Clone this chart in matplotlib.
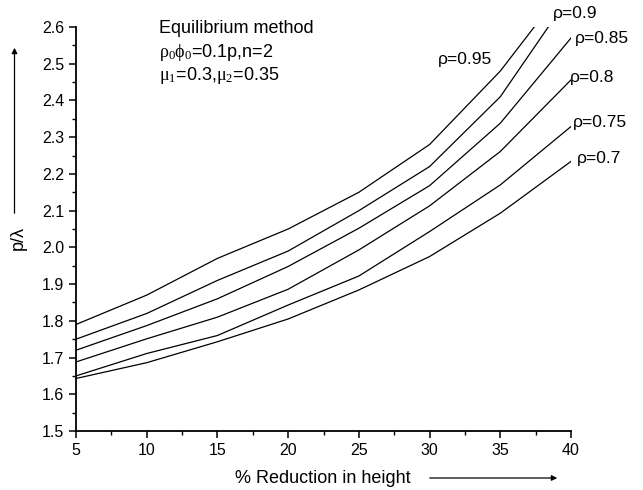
import matplotlib
matplotlib.use('Agg')
from matplotlib import pyplot as plt
from matplotlib.ticker import MultipleLocator, FormatStrFormatter

plt.rcParams['font.family'] = ['Liberation Sans', 'DejaVu Sans']
plt.rcParams['mathtext.fontset'] = 'custom'
plt.rcParams['mathtext.rm'] = 'Liberation Serif'
plt.rcParams['mathtext.it'] = 'Liberation Serif:italic'

reduction = [5, 10, 15, 20, 25, 30, 35, 40]
rho_labels = ['ρ=0.95', 'ρ=0.9', 'ρ=0.85', 'ρ=0.8', 'ρ=0.75', 'ρ=0.7']
p_095 = [1.79, 1.87, 1.97, 2.05, 2.15, 2.28, 2.48, 2.73]
p_090 = [1.75, 1.82, 1.91, 1.99, 2.10, 2.22, 2.41, 2.69]
p_085 = [1.72, 1.787, 1.86, 1.948, 2.052, 2.168, 2.338, 2.57]
p_080 = [1.688, 1.751, 1.81, 1.886, 1.993, 2.113, 2.261, 2.456]
p_075 = [1.65, 1.711, 1.76, 1.843, 1.922, 2.043, 2.17, 2.329]
p_070 = [1.643, 1.686, 1.743, 1.805, 1.884, 1.975, 2.093, 2.234]
series = [p_095, p_090, p_085, p_080, p_075, p_070]

# label anchor points (left edge, vertical centre) in data units
label_x = [30.6, 38.7, 40.3, 39.9, 40.1, 40.45]
label_y = [2.511, 2.636, 2.568, 2.462, 2.339, 2.241]

fig = plt.figure(figsize=(6.43, 4.90), dpi=100)
ax = fig.add_axes([76/643, 1-431/490, (571-76)/643, (431-27)/490])

for vals in series:
    ax.plot(reduction, vals, color='black', lw=0.9)

for lab, lx, ly in zip(rho_labels, label_x, label_y):
    ax.text(lx, ly, lab, fontsize=12.5, ha='left', va='center', clip_on=False)

ax.set_xlim(5, 40)
ax.set_ylim(1.5, 2.6)
ax.xaxis.set_major_locator(MultipleLocator(5))
ax.xaxis.set_minor_locator(MultipleLocator(2.5))
ax.yaxis.set_major_locator(MultipleLocator(0.1))
ax.yaxis.set_minor_locator(MultipleLocator(0.05))
ax.yaxis.set_major_formatter(FormatStrFormatter('%.1f'))
for s in ['top', 'right']:
    ax.spines[s].set_visible(False)
for s in ['left', 'bottom']:
    ax.spines[s].set_linewidth(1.3)
ax.tick_params(which='major', direction='out', length=5, width=1.1, labelsize=11.5)
ax.tick_params(which='minor', direction='out', length=3, width=1.0)

ax.text(0.168, 0.985, 'Equilibrium method', transform=ax.transAxes, fontsize=13, va='baseline')
ax.text(0.168, 0.925, r'$\mathrm{\rho_0\phi_0}$' + '=0.1p,n=2', transform=ax.transAxes, fontsize=13, va='baseline')
ax.text(0.168, 0.868, r'$\mathrm{\mu_1}$=0.3,$\mathrm{\mu_2}$=0.35', transform=ax.transAxes, fontsize=13, va='baseline')

fig.text(323/643, 1-478/490, '% Reduction in height', fontsize=13, ha='center', va='center')
fig.text(18/643, 1-238/490, 'p/λ', fontsize=13, ha='center', va='center', rotation=90)

fig.patches.append(matplotlib.patches.FancyArrowPatch((427/643, 1-478/490), (560/643, 1-478/490),
    transform=fig.transFigure, arrowstyle='-|>', mutation_scale=8, lw=0.9, color='black'))
fig.patches.append(matplotlib.patches.FancyArrowPatch((14.5/643, 1-216/490), (14.5/643, 1-45/490),
    transform=fig.transFigure, arrowstyle='-|>', mutation_scale=8, lw=0.9, color='black'))

fig.savefig('out.png', dpi=100)
